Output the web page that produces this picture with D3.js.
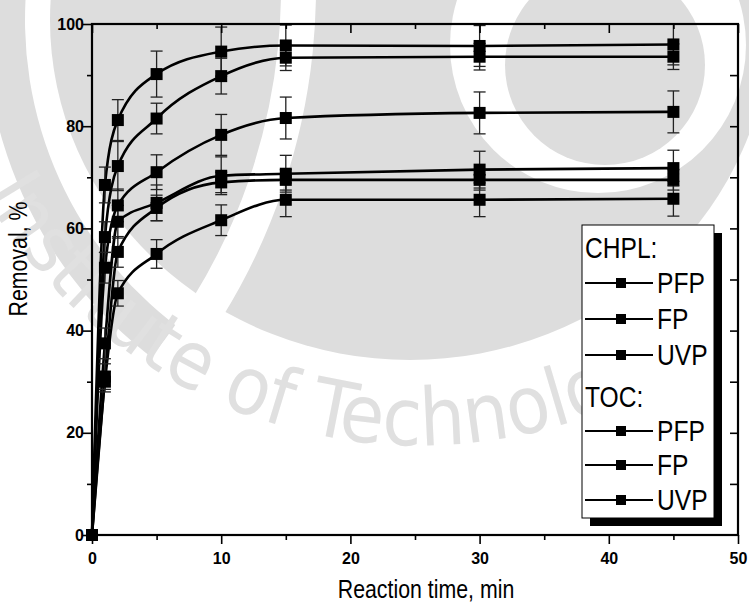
<!DOCTYPE html>
<html>
<head>
<meta charset="utf-8">
<script src="https://cdn.jsdelivr.net/npm/d3@7"></script>
<style>
  body { margin: 0; background: #fff; }
  svg { display: block; }
  .tick-lbl { font-family: "Liberation Sans", Arial, sans-serif; font-weight: bold; font-size: 16px; }
  .narrow { font-family: "Liberation Sans", Arial, sans-serif; }
</style>
</head>
<body>
<div id="chart"></div>
<script>
// sampling times (min)
var times = [0, 1, 2, 5, 10, 15, 30, 45];

// removal, %
var chplPFP = [0, 68.5, 81.2, 90.2, 94.6, 95.8, 95.7, 96.0];
var chplFP  = [0, 58.3, 72.2, 81.5, 89.8, 93.4, 93.6, 93.6];
var chplUVP = [0, 52.3, 64.5, 71.0, 78.3, 81.6, 82.6, 82.8];
var tocPFP  = [0, 37.5, 61.3, 65.0, 70.3, 70.7, 71.5, 71.8];
var tocFP   = [0, 31.0, 55.4, 64.0, 69.0, 69.5, 69.5, 69.5];
var tocUVP  = [0, 30.0, 47.3, 55.0, 61.6, 65.6, 65.6, 65.8];

// error bar half widths
var errPFP1 = [0, 3.5, 4.0, 4.5, 4.8, 4.0, 4.0, 4.0];
var errFP1  = [0, 3.0, 4.8, 3.0, 3.5, 2.5, 2.6, 2.5];
var errUVP1 = [0, 3.0, 3.2, 3.4, 4.0, 4.1, 4.1, 4.1];
var errPFP2 = [0, 3.0, 3.2, 3.5, 3.7, 3.6, 3.6, 3.5];
var errFP2  = [0, 2.5, 3.0, 2.5, 2.0, 2.0, 2.0, 2.0];
var errUVP2 = [0, 2.0, 2.5, 2.8, 3.0, 3.3, 3.3, 3.4];

var legendGroups = ["CHPL:", "TOC:"];
var legendNames = ["PFP", "FP", "UVP"];

var xTicks = [0, 10, 20, 30, 40, 50];
var yTicks = [0, 20, 40, 60, 80, 100];

var series = [
  {vals: chplPFP, err: errPFP1},
  {vals: chplFP,  err: errFP1},
  {vals: chplUVP, err: errUVP1},
  {vals: tocPFP,  err: errPFP2},
  {vals: tocFP,   err: errFP2},
  {vals: tocUVP,  err: errUVP2}
];

var W = 749, H = 605;
var margin = {left: 92, right: 11, top: 24, bottom: 70};

var svg = d3.select("#chart").append("svg")
    .attr("width", W)
    .attr("height", H);

var x = d3.scaleLinear().domain([0, 50]).range([margin.left, W - margin.right]);
var y = d3.scaleLinear().domain([0, 100]).range([H - margin.bottom, margin.top]);

//faint logo watermark behind the plot
var wmGray = "#dddddd";
var wm = svg.append("g");
wm.append("ellipse").attr("cx", 410).attr("cy", 20).attr("rx", 360).attr("ry", 340).attr("fill", wmGray);
wm.append("path")
    .attr("d", d3.arc().innerRadius(385).outerRadius(425).startAngle(3.75).endAngle(5.9)())
    .attr("transform", "translate(410,20)")
    .attr("fill", wmGray);
// thin white cut through the left part
wm.append("path")
    .attr("d", d3.arc().innerRadius(590).outerRadius(625).startAngle(1.45).endAngle(2.35)())
    .attr("transform", "translate(-309,-12)")
    .attr("fill", "#fff");
wm.append("circle").attr("cx", 598).attr("cy", 45).attr("r", 148).attr("fill", "#fff");
wm.append("circle").attr("cx", 605).attr("cy", 65).attr("r", 100).attr("fill", wmGray);
wm.append("path").attr("id", "wmArc").attr("fill", "none")
    .attr("d", "M -83.1,-16 A 505,505 0 0 0 923.1,-16");
wm.append("text")
    .attr("font-family", "DejaVu Sans Condensed, DejaVu Sans, sans-serif")
    .attr("font-stretch", "condensed")
    .attr("font-size", 80)
    .attr("fill", "#e0e0e0")
    .append("textPath")
    .attr("href", "#wmArc")
    .attr("startOffset", 222)
    .text("Institute of Technology");

var plot = svg.append("g");

var line = d3.line()
    .x(function(d, i){ return x(times[i]); })
    .y(function(d){ return y(d); })
    .curve(d3.curveMonotoneX);

//fitted curves
series.forEach(function(s){
  plot.append("path")
      .attr("d", line(s.vals))
      .attr("fill", "none")
      .attr("stroke", "#000")
      .attr("stroke-width", 2.6);
});

//error bars
series.forEach(function(s){
  s.vals.forEach(function(v, i){
    if (s.err[i] == 0) return;
    var top = Math.max(y(v + s.err[i]), margin.top);
    var bot = y(v - s.err[i]);
    var cx = x(times[i]);
    var g = plot.append("g").attr("stroke", "#222").attr("stroke-width", 1.3);
    g.append("line").attr("x1", cx).attr("x2", cx).attr("y1", top).attr("y2", bot);
    if (y(v + s.err[i]) > margin.top)
      g.append("line").attr("x1", cx - 6).attr("x2", cx + 6).attr("y1", top).attr("y2", top);
    g.append("line").attr("x1", cx - 6).attr("x2", cx + 6).attr("y1", bot).attr("y2", bot);
  });
});

//square markers
series.forEach(function(s){
  plot.selectAll(null)
      .data(s.vals)
      .enter()
      .append("rect")
      .attr("x", function(d, i){ return x(times[i]) - 6; })
      .attr("y", function(d){ return y(d) - 6; })
      .attr("width", 12)
      .attr("height", 12)
      .attr("fill", "#000");
});

//axes: left and bottom outward, top and right inward
var yMinor = d3.range(10, 100, 20);
var xMinor = d3.range(5, 50, 10);

svg.append("g")
    .attr("transform", "translate(0," + y(0) + ")")
    .call(d3.axisBottom(x).tickValues(xTicks).tickSize(9).tickFormat(d3.format("d")))
    .call(function(g){ g.selectAll("text").attr("class", "tick-lbl").attr("dy", "1.05em"); });
svg.append("g")
    .attr("transform", "translate(0," + y(0) + ")")
    .call(d3.axisBottom(x).tickValues(xMinor).tickSize(5).tickFormat(""));
svg.append("g")
    .attr("transform", "translate(" + x(0) + ",0)")
    .call(d3.axisLeft(y).tickValues(yTicks).tickSize(9).tickFormat(d3.format("d")))
    .call(function(g){ g.selectAll("text").attr("class", "tick-lbl").attr("x", -8); });
svg.append("g")
    .attr("transform", "translate(" + x(0) + ",0)")
    .call(d3.axisLeft(y).tickValues(yMinor).tickSize(5).tickFormat(""));
svg.append("g")
    .attr("transform", "translate(0," + y(100) + ")")
    .call(d3.axisBottom(x).tickValues(xTicks).tickSize(9).tickFormat(""));
svg.append("g")
    .attr("transform", "translate(0," + y(100) + ")")
    .call(d3.axisBottom(x).tickValues(xMinor).tickSize(5).tickFormat(""));
svg.append("g")
    .attr("transform", "translate(" + x(50) + ",0)")
    .call(d3.axisLeft(y).tickValues(d3.range(10, 100, 10)).tickSize(8).tickFormat(""));

svg.selectAll(".domain").remove();
svg.selectAll(".tick line").attr("stroke", "#000").attr("stroke-width", 1.6);

//frame
svg.append("rect")
    .attr("x", x(0)).attr("y", y(100))
    .attr("width", x(50) - x(0)).attr("height", y(0) - y(100))
    .attr("fill", "none").attr("stroke", "#000").attr("stroke-width", 2.2);

//axis titles, narrow type
svg.append("text")
    .attr("class", "narrow")
    .attr("font-size", 26)
    .attr("text-anchor", "middle")
    .attr("transform", "translate(426,598) scale(0.82,1)")
    .text("Reaction time, min");
svg.append("text")
    .attr("class", "narrow")
    .attr("font-size", 26)
    .attr("text-anchor", "middle")
    .attr("transform", "translate(27,259) rotate(-90) scale(0.82,1)")
    .text("Removal, %");

//legend with shadow
var lg = svg.append("g");
lg.append("rect").attr("x", 590).attr("y", 233).attr("width", 132).attr("height", 293).attr("fill", "#000");
lg.append("rect").attr("x", 582).attr("y", 225).attr("width", 132).attr("height", 293)
    .attr("fill", "#fff").attr("stroke", "#000").attr("stroke-width", 1);

var rowY = [[283, 319, 355], [431, 465, 500]];
var headY = [248, 397];
legendGroups.forEach(function(name, gi){
  lg.append("text")
      .attr("class", "narrow")
      .attr("font-size", 30)
      .attr("dominant-baseline", "central")
      .attr("transform", "translate(585," + headY[gi] + ") scale(0.82,1)")
      .text(name);
  legendNames.forEach(function(n, i){
    var yy = rowY[gi][i];
    lg.append("line").attr("x1", 585).attr("x2", 653).attr("y1", yy).attr("y2", yy)
        .attr("stroke", "#000").attr("stroke-width", 2.2);
    lg.append("rect").attr("x", 616).attr("y", yy - 5).attr("width", 10).attr("height", 10).attr("fill", "#000");
    lg.append("text")
        .attr("class", "narrow")
        .attr("font-size", 30)
        .attr("dominant-baseline", "central")
        .attr("transform", "translate(657," + yy + ") scale(0.82,1)")
        .text(n);
  });
});
</script>
</body>
</html>
